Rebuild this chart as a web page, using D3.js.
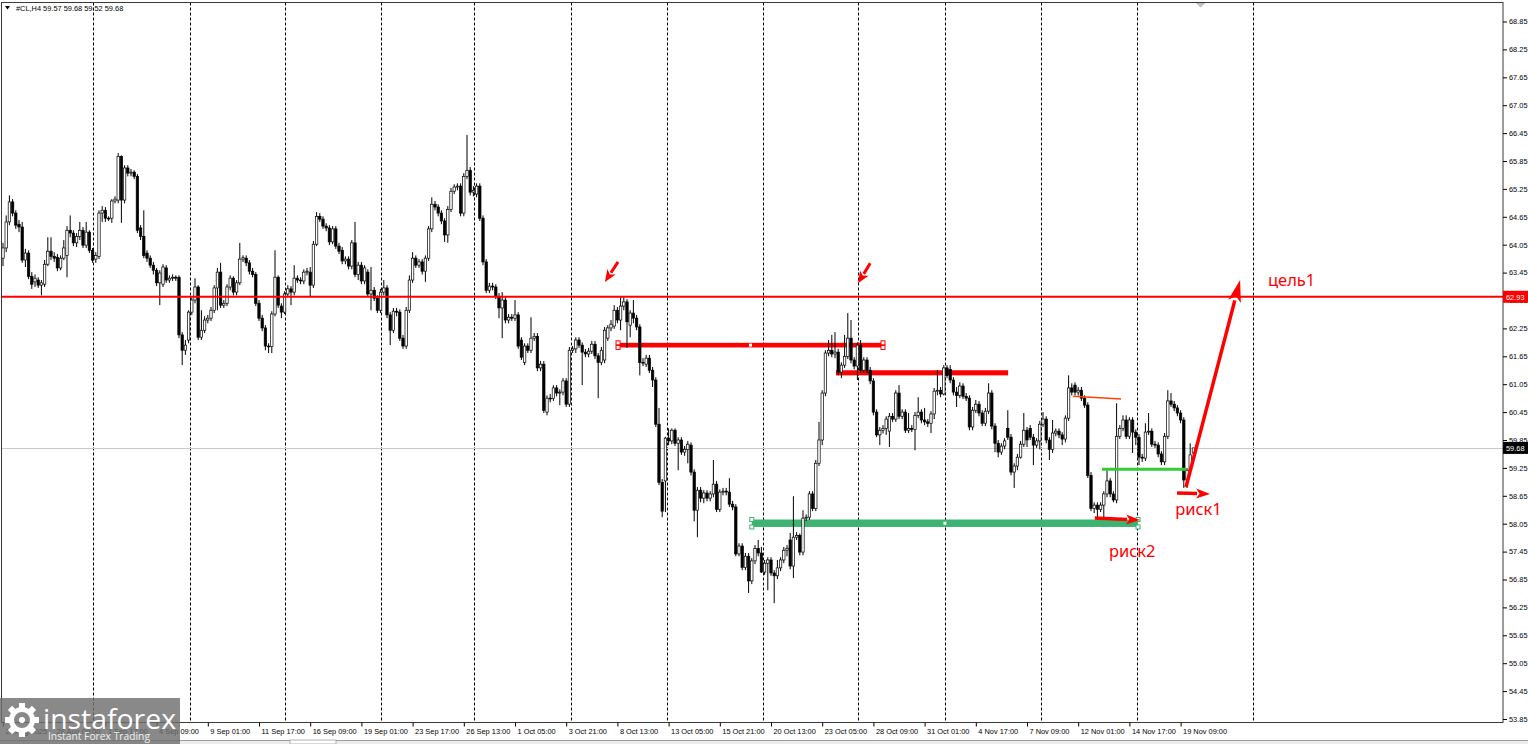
<!DOCTYPE html>
<html><head><meta charset="utf-8">
<script src="https://cdn.jsdelivr.net/npm/d3@7"></script>
<style>html,body{margin:0;padding:0;background:#fff;overflow:hidden}svg{display:block}</style>
</head><body>
<svg id="chart" width="1528" height="744"></svg>
<script>
// ---------------- DATA ----------------
const symbolName = "#CL,H4";
const lastQuote = [59.57, 59.68, 59.52, 59.68];

const opens = [
63.76,63.98,64.54,64.97,64.73,64.49,64.43,63.72,63.87,63.37,
63.25,63.29,63.18,63.20,63.63,63.91,63.80,63.78,63.55,63.76,
63.82,64.36,64.30,64.09,64.23,64.36,64.04,64.32,63.93,63.74,
63.80,64.73,64.79,64.62,64.62,64.99,65.01,65.95,65.01,65.70,
65.59,65.61,65.52,64.41,64.23,63.87,63.76,63.61,63.50,63.23,
63.20,63.55,63.29,63.33,63.35,63.35,62.11,61.78,62.00,62.60,
62.86,63.14,62.06,62.21,62.43,62.47,62.64,63.12,63.46,62.75,
62.79,63.14,63.33,63.03,63.23,63.74,63.76,63.66,63.48,63.41,
62.79,62.47,62.26,61.87,61.86,62.56,63.35,62.73,62.60,62.99,
63.10,63.03,63.33,63.29,63.27,63.46,63.46,63.18,64.06,64.66,
64.60,64.45,64.41,64.11,64.39,64.02,63.93,63.70,63.74,63.59,
64.09,63.41,63.61,63.27,63.46,62.99,63.07,62.90,62.64,63.03,
63.12,62.54,62.21,62.62,62.60,62.04,61.87,62.64,63.29,63.76,
63.61,63.68,63.48,63.76,64.39,64.92,64.86,64.73,64.56,64.26,
64.81,65.20,65.29,65.31,64.73,65.52,65.65,65.18,65.14,65.31,
64.62,63.68,63.07,63.16,63.14,62.94,62.69,62.86,62.43,62.49,
62.47,62.54,62.00,61.52,61.87,61.78,62.04,62.08,61.40,61.48,
60.45,60.75,60.74,60.97,60.86,60.88,61.12,60.62,61.78,61.81,
62.00,61.89,61.74,61.70,61.76,61.91,61.66,61.52,61.57,62.04,
62.26,62.30,62.64,62.43,62.73,62.82,62.32,62.58,62.47,62.28,
61.52,61.48,61.61,61.35,61.14,60.19,58.94,58.97,59.89,59.83,
60.06,59.78,59.85,59.59,59.65,59.74,59.16,58.34,58.77,58.60,
58.71,58.60,58.69,58.90,58.36,58.73,58.75,58.73,58.47,58.41,
57.40,57.57,57.11,57.35,56.82,57.25,57.52,57.42,57.01,57.20,
57.27,56.99,56.93,57.10,57.27,57.48,57.70,57.14,57.76,57.80,
57.44,58.17,58.19,58.69,58.38,59.35,59.85,60.86,61.72,61.78,
61.70,61.74,61.31,61.46,61.65,62.04,61.57,61.44,61.89,61.35,
61.57,61.35,61.12,60.45,59.96,60.06,60.10,60.04,60.36,60.30,
60.86,60.36,60.45,60.06,60.10,60.08,60.38,60.45,60.28,60.24,
60.21,60.41,60.90,60.92,60.84,61.40,61.37,61.14,60.88,60.81,
61.01,60.79,60.75,60.13,60.49,60.62,60.43,60.21,60.47,60.86,
60.15,59.78,59.59,59.72,60.10,59.91,59.16,59.29,59.48,59.76,
60.06,60.10,59.91,59.74,59.83,60.19,60.30,59.85,59.65,60.00,
60.04,59.96,59.87,60.32,60.97,61.03,60.88,60.92,60.75,60.60,
59.09,58.38,58.45,58.36,58.45,58.69,58.97,58.69,58.56,59.93,
60.10,60.28,59.93,60.28,60.02,59.91,59.48,59.46,60.02,60.04,
59.76,59.74,59.55,59.38,59.93,60.69,60.62,60.54,60.43,60.28,
58.99,59.20,59.57];

const highs = [
64.09,64.68,65.11,65.03,64.79,64.58,64.54,63.96,63.93,63.46,
63.41,63.35,63.29,63.72,64.21,64.21,63.89,63.85,63.82,64.15,
64.45,64.68,64.36,64.30,64.54,64.43,64.54,64.36,63.98,63.89,
64.79,64.88,64.86,64.66,65.03,65.09,66.02,65.97,65.76,65.76,
65.68,65.65,65.57,64.47,64.79,63.93,63.82,63.68,63.55,63.50,
63.63,63.61,63.39,63.41,63.39,63.39,62.17,62.00,62.64,62.92,
63.33,63.18,62.64,62.51,62.54,62.71,63.18,63.55,63.66,62.86,
63.20,63.39,63.37,63.29,64.09,63.82,63.82,63.72,63.55,63.46,
62.86,62.54,62.32,61.93,62.62,63.93,63.39,62.79,63.05,63.18,
63.16,63.61,63.39,63.35,63.52,63.55,63.57,64.13,64.75,64.73,
64.66,64.51,64.47,64.45,64.45,64.09,64.00,63.80,63.80,64.15,
64.54,63.68,63.68,63.61,63.52,63.57,63.14,62.96,63.10,63.29,
63.18,62.60,62.69,62.69,62.66,62.11,62.71,63.39,63.89,63.82,
63.74,63.74,63.82,64.45,65.07,64.99,64.92,64.79,64.62,64.88,
65.27,65.35,65.37,65.37,65.59,66.41,65.72,65.31,65.37,65.37,
64.68,63.74,63.23,63.23,63.20,63.01,63.03,62.92,62.56,62.56,
62.86,62.60,62.06,61.93,61.93,62.49,62.15,62.15,61.55,61.55,
60.81,60.84,61.03,61.03,60.94,61.18,61.18,61.85,61.87,62.06,
62.06,61.95,61.81,61.83,61.98,61.98,61.72,61.85,62.28,62.32,
62.43,62.75,62.71,62.92,62.92,62.88,62.64,62.86,62.54,62.34,
61.61,61.68,61.68,61.42,61.20,60.54,59.01,59.92,60.10,60.10,
60.10,59.91,59.91,59.72,59.83,59.80,59.22,58.84,58.84,58.77,
58.77,58.75,59.42,58.97,58.79,58.82,58.82,59.03,58.54,58.47,
57.63,57.63,57.42,57.42,57.31,57.59,57.70,57.55,57.27,57.33,
57.33,57.05,57.27,57.33,57.55,57.59,57.85,58.64,57.87,57.84,
58.34,58.25,58.75,58.75,59.42,60.24,60.92,61.78,62.00,62.11,
62.17,61.81,61.52,62.11,62.58,62.43,61.63,61.95,62.00,61.63,
61.63,61.42,61.18,60.51,60.13,60.17,60.36,60.43,60.43,60.92,
61.03,60.51,60.51,60.43,60.17,60.45,60.77,60.51,60.54,60.30,
60.47,60.97,61.35,60.99,61.46,61.46,61.46,61.20,60.99,61.09,
61.07,60.86,60.81,60.56,60.71,60.69,60.49,60.54,61.07,60.92,
60.21,59.85,59.78,59.89,60.49,59.98,59.35,59.55,59.83,60.43,
60.13,60.17,59.98,59.89,60.26,60.45,60.36,59.91,60.28,60.10,
60.10,60.02,60.38,61.24,61.07,61.09,60.99,60.99,60.81,60.66,
59.16,58.51,58.51,58.51,58.75,59.20,59.03,58.75,60.64,60.17,
60.38,60.38,60.34,60.34,60.08,59.98,59.55,60.21,60.43,60.10,
59.83,59.80,59.61,60.00,60.92,60.86,60.69,60.60,60.49,60.34,
59.25,59.78,59.68];

const lows = [
63.59,63.89,64.47,64.66,64.39,64.32,63.66,63.57,63.31,63.10,
63.14,63.12,62.96,63.14,63.59,63.72,63.68,63.48,63.50,63.72,
63.35,64.21,64.02,64.00,64.15,63.98,63.98,63.87,63.66,63.66,
63.74,64.54,64.54,64.56,64.52,64.94,64.94,64.52,64.94,65.52,
65.52,65.46,64.30,64.15,63.76,63.68,63.55,63.41,63.16,62.75,
63.14,63.23,63.23,63.27,63.27,62.04,61.46,61.68,61.93,62.54,
62.79,62.00,62.00,62.15,62.36,62.41,62.58,62.64,62.69,62.69,
62.73,63.07,62.96,62.96,63.18,63.68,63.59,63.41,63.35,62.73,
62.41,62.19,61.78,61.72,61.72,62.51,62.69,62.47,62.56,62.94,
62.75,62.96,63.23,63.20,63.20,63.39,62.92,63.12,64.02,64.54,
64.39,64.34,64.04,64.06,63.96,63.85,63.63,63.63,63.52,63.52,
63.35,63.29,63.20,63.20,62.92,62.64,62.84,62.58,62.58,62.96,
62.47,61.89,62.15,62.51,61.98,61.81,61.81,62.58,63.23,63.55,
63.55,63.41,63.25,63.70,64.32,64.79,64.66,64.49,64.11,64.09,
64.75,65.14,65.22,64.66,64.66,65.46,65.11,65.09,65.07,64.56,
63.61,63.01,63.01,63.07,62.88,62.47,62.04,62.36,62.36,62.41,
62.41,61.81,61.57,61.46,61.72,61.72,61.98,61.33,61.33,60.43,
60.38,60.66,60.69,60.79,60.60,60.81,60.56,60.56,61.72,61.72,
61.83,61.03,61.63,61.63,61.70,61.59,60.75,61.46,61.50,61.98,
62.19,62.24,62.36,62.21,62.64,61.83,62.06,62.36,62.21,61.24,
61.44,61.42,61.29,60.99,60.13,58.88,58.19,58.30,59.74,59.76,
59.72,59.20,59.53,59.51,59.35,59.09,58.10,57.76,58.51,58.49,
58.53,58.53,58.62,58.30,58.30,58.66,58.66,58.41,58.34,57.35,
57.35,57.05,57.05,56.56,56.75,57.18,57.35,56.99,56.95,56.62,
56.93,56.34,56.86,57.03,57.20,57.35,57.07,56.88,57.70,57.37,
57.37,58.11,58.13,58.32,58.32,59.29,59.74,60.79,61.65,61.63,
61.61,61.24,61.18,61.40,61.59,61.50,61.37,61.14,61.29,61.29,
61.29,61.05,60.38,59.91,59.74,59.99,59.96,59.70,60.24,60.24,
60.30,60.30,60.00,60.00,60.02,59.63,60.32,60.21,60.17,60.13,
60.00,60.30,60.81,60.77,60.81,61.18,61.07,60.81,60.56,60.75,
60.73,60.69,60.06,60.06,60.43,60.36,60.15,60.15,60.41,60.08,
59.59,59.48,59.53,59.65,59.85,59.09,58.82,59.20,59.45,59.70,
59.70,59.85,59.31,59.68,59.65,60.13,59.78,59.42,59.57,59.93,
59.89,59.74,59.80,60.26,60.81,60.81,60.81,60.69,60.54,59.03,
58.32,58.28,58.13,58.30,58.19,58.62,58.62,58.51,58.49,59.87,
60.04,59.87,59.87,59.57,59.74,59.31,59.38,59.40,59.96,59.70,
59.68,59.48,59.31,59.31,59.87,60.56,60.47,60.36,60.21,58.82,
58.82,59.14,59.52];

const closes = [
63.98,64.54,64.97,64.73,64.47,64.43,63.72,63.87,63.37,63.20,
63.33,63.18,63.23,63.63,63.91,63.80,63.76,63.55,63.76,63.98,
64.36,64.30,64.09,64.23,64.36,64.04,64.32,63.93,63.72,63.82,
64.73,64.79,64.62,64.61,64.99,65.03,65.95,65.01,65.70,65.59,
65.61,65.52,64.36,64.23,63.82,63.76,63.61,63.50,63.23,63.44,
63.57,63.29,63.33,63.35,63.33,62.11,61.78,61.89,62.60,62.86,
63.14,62.06,62.21,62.43,62.47,62.64,63.12,63.46,62.75,62.79,
63.14,63.33,63.03,63.23,63.74,63.77,63.66,63.48,63.41,62.79,
62.47,62.26,61.87,61.86,62.56,63.35,62.75,62.60,62.99,63.10,
63.03,63.33,63.29,63.27,63.46,63.48,63.18,64.06,64.66,64.60,
64.45,64.41,64.11,64.39,64.02,63.91,63.70,63.74,63.59,64.09,
63.41,63.61,63.27,63.55,62.99,63.07,62.90,62.64,63.03,63.12,
62.54,62.21,62.62,62.60,62.04,61.87,62.64,63.29,63.76,63.61,
63.68,63.48,63.76,64.39,64.92,64.86,64.73,64.56,64.26,64.81,
65.20,65.29,65.31,64.73,65.52,65.65,65.18,65.22,65.31,64.62,
63.68,63.07,63.16,63.14,62.94,62.69,62.86,62.43,62.49,62.47,
62.54,61.87,61.63,61.87,61.78,62.04,62.08,61.40,61.48,60.49,
60.75,60.74,60.97,60.86,60.88,61.12,60.62,61.78,61.81,62.00,
61.89,61.74,61.70,61.76,61.91,61.66,61.52,61.78,62.21,62.26,
62.34,62.64,62.43,62.73,62.82,62.39,62.58,62.47,62.28,61.52,
61.51,61.61,61.35,61.14,60.19,58.94,58.32,59.89,59.83,60.06,
59.78,59.85,59.59,59.65,59.76,59.16,58.34,58.77,58.60,58.71,
58.60,58.69,58.90,58.36,58.73,58.75,58.73,58.47,58.41,57.40,
57.57,57.11,57.35,56.82,57.25,57.52,57.42,57.01,57.20,57.27,
56.99,56.93,57.10,57.27,57.48,57.52,57.14,57.76,57.80,57.44,
58.17,58.19,58.69,58.38,59.35,59.85,60.86,61.72,61.78,61.70,
61.74,61.31,61.46,61.65,62.04,61.57,61.44,61.89,61.35,61.57,
61.35,61.12,60.45,59.96,60.06,60.10,60.30,60.36,60.30,60.86,
60.36,60.45,60.06,60.10,60.08,60.38,60.45,60.28,60.24,60.21,
60.41,60.90,60.92,60.84,61.40,61.24,61.14,60.88,60.81,61.01,
60.79,60.75,60.13,60.49,60.62,60.43,60.21,60.47,60.86,60.15,
59.78,59.59,59.72,59.83,59.91,59.16,59.29,59.48,59.76,60.06,
59.85,59.91,59.74,59.83,60.19,60.30,59.85,59.65,60.00,60.04,
59.96,59.87,60.32,60.97,60.88,60.88,60.92,60.75,60.60,59.09,
58.38,58.45,58.36,58.45,58.69,58.97,58.69,58.56,59.93,60.10,
60.28,59.93,60.28,60.02,59.91,59.48,59.46,60.02,60.04,59.76,
59.74,59.55,59.38,59.93,60.69,60.62,60.54,60.43,60.28,58.99,
59.20,59.53,59.68];

const timeLabels = ["25 Aug 2025","28 Aug 09:00","1 Sep 17:00","4 Sep 09:00","9 Sep 01:00","11 Sep 17:00",
  "16 Sep 09:00","19 Sep 01:00","23 Sep 17:00","26 Sep 13:00","1 Oct 05:00","3 Oct 21:00","8 Oct 13:00",
  "13 Oct 05:00","15 Oct 21:00","20 Oct 13:00","23 Oct 05:00","28 Oct 09:00","31 Oct 01:00","4 Nov 17:00",
  "7 Nov 09:00","12 Nov 01:00","14 Nov 17:00","19 Nov 09:00"];
const timeLabelBars = [0,16,32,48,64,80,96,112,128,144,160,176,192,208,224,240,256,272,288,304,320,336,352,368];
const priceTicks = [53.85,54.45,55.05,55.65,56.25,56.85,57.45,58.05,58.65,59.25,59.85,60.45,61.05,61.65,
  62.25,62.85,63.45,64.05,64.65,65.25,65.85,66.45,67.05,67.65,68.25,68.85];
const gridBars = [28.1,58.4,88.1,118.1,147.2,177.5,207.5,237.5,267.2,294.4,324.4,354.4,390.6];

const levelPrice = 62.93;
const bidPrice = 59.68;
// zones: [fromBar, toBar, topPrice, bottomPrice]
const redZones = [[192.2, 275.0, 61.94, 61.84], [260.3, 314.1, 61.35, 61.24]];
const greenZones = [[234.0, 354.7, 58.14, 57.98]];
// segments: [bar1, price1, bar2, price2]
const orangeSegments = [[334.4, 60.79, 349.4, 60.73]];
const limeSegments = [[343.4, 59.22, 369.7, 59.22]];
const smallArrows = [[192.2, 63.68, 188.1, 63.25], [271.0, 63.65, 267.2, 63.22]];
const bigArrows = [[369.7, 58.84, 386.6, 63.29]];
const flatArrows = [[366.9, 58.71, 377.2, 58.69], [341.2, 58.17, 355.3, 58.13]];
const noteTexts = ["цель1", "риск1", "риск2"];
const noteBars = [395.3, 366.3, 345.6];
const notePrices = [63.16, 58.24, 57.34];

// ---------------- DRAW ----------------
const svg = d3.select("#chart");
const W = 1528, H = 744;
const plotL = 1.5, plotR = 1503, plotT = 2.5, plotB = 722.5;
const FONT = "'Liberation Sans', Arial, sans-serif";

const n = closes.length;
const x = d3.scaleLinear().domain([0, n - 1]).range([3, 3 + 3.2 * (n - 1)]);
const y = d3.scaleLinear().domain([53.85, 68.85]).range([719, 21.5]);

svg.append("rect").attr("width", W).attr("height", H).attr("fill", "#fff");

svg.append("defs").append("clipPath").attr("id", "plotclip")
  .append("rect").attr("x", plotL).attr("y", plotT).attr("width", plotR - plotL).attr("height", plotB - plotT);

const plot = svg.append("g").attr("clip-path", "url(#plotclip)");

// grid
plot.append("g").selectAll("line").data(gridBars).join("line")
  .attr("x1", d => Math.round(x(d)) + 0.5).attr("x2", d => Math.round(x(d)) + 0.5)
  .attr("y1", plotT).attr("y2", plotB)
  .attr("stroke", "#000").attr("stroke-width", 1).attr("stroke-dasharray", "3,2");

// bid line
plot.append("line").attr("x1", plotL).attr("x2", plotR)
  .attr("y1", Math.round(y(bidPrice)) + 0.5).attr("y2", Math.round(y(bidPrice)) + 0.5)
  .attr("stroke", "#c8c8c8").attr("stroke-width", 1);

// zones (background objects)
function drawZones(data, color) {
  plot.append("g").selectAll("rect").data(data).join("rect")
    .attr("x", d => x(d[0])).attr("width", d => x(d[1]) - x(d[0]))
    .attr("y", d => y(d[2])).attr("height", d => y(d[3]) - y(d[2]))
    .attr("fill", color);
}
drawZones(redZones, "#ff0000");
drawZones(greenZones, "#3cb371");

// selection markers on first red zone and green zone
function markers(z, color) {
  const g = plot.append("g");
  const xs = [x(z[0]), x(z[1])];
  xs.forEach(px => {
    [y(z[2]), y(z[3])].forEach(py => {
      g.append("rect").attr("x", px - 2).attr("y", py - 2).attr("width", 4).attr("height", 4)
        .attr("fill", "#fff").attr("stroke", color).attr("stroke-width", 1);
    });
  });
  const mx = (xs[0] + xs[1]) / 2, my = (y(z[2]) + y(z[3])) / 2;
  g.append("rect").attr("x", mx - 1.5).attr("y", my - 1.5).attr("width", 3).attr("height", 3).attr("fill", "#fff");
}
markers(redZones[0], "#ff0000");
markers(greenZones[0], "#3cb371");

// candles
const candles = d3.range(n).map(i => ({i, o: opens[i], h: highs[i], l: lows[i], c: closes[i]}));
const cg = plot.append("g");
cg.selectAll("line").data(candles).join("line")
  .attr("x1", d => x(d.i)).attr("x2", d => x(d.i))
  .attr("y1", d => y(d.h)).attr("y2", d => y(d.l))
  .attr("stroke", "#000").attr("stroke-width", 1);
const bw = 2.4;
cg.selectAll("rect").data(candles).join("rect")
  .attr("x", d => x(d.i) - bw / 2).attr("width", bw)
  .attr("y", d => y(Math.max(d.o, d.c)))
  .attr("height", d => Math.max(0.8, Math.abs(y(d.o) - y(d.c))))
  .attr("fill", d => d.c >= d.o ? "#fff" : "#000")
  .attr("stroke", "#000").attr("stroke-width", 0.7);

// level line
plot.append("line").attr("x1", plotL).attr("x2", plotR)
  .attr("y1", y(levelPrice)).attr("y2", y(levelPrice))
  .attr("stroke", "#ff0000").attr("stroke-width", 2);

// thin segments
plot.append("g").selectAll("line").data(orangeSegments).join("line")
  .attr("x1", d => x(d[0])).attr("y1", d => y(d[1])).attr("x2", d => x(d[2])).attr("y2", d => y(d[3]))
  .attr("stroke", "#ff4500").attr("stroke-width", 1.5);
plot.append("g").selectAll("line").data(limeSegments).join("line")
  .attr("x1", d => x(d[0])).attr("y1", d => y(d[1])).attr("x2", d => x(d[2])).attr("y2", d => y(d[3]))
  .attr("stroke", "#32cd32").attr("stroke-width", 3);

// arrows
function arrow(d, lw, hl, hw) {
  const x1 = x(d[0]), y1 = y(d[1]), x2 = x(d[2]), y2 = y(d[3]);
  const dx = x2 - x1, dy = y2 - y1, L = Math.hypot(dx, dy), ux = dx / L, uy = dy / L;
  const bx = x2 - ux * hl, by = y2 - uy * hl;
  plot.append("line").attr("x1", x1).attr("y1", y1).attr("x2", bx + ux).attr("y2", by + uy)
    .attr("stroke", "#ff0000").attr("stroke-width", lw);
  plot.append("path")
    .attr("d", `M${x2},${y2}L${bx - uy * hw / 2},${by + ux * hw / 2}L${bx + ux * hl * 0.25},${by + uy * hl * 0.25}L${bx + uy * hw / 2},${by - ux * hw / 2}Z`)
    .attr("fill", "#ff0000");
}
smallArrows.forEach(d => arrow(d, 3, 12, 10));
bigArrows.forEach(d => arrow(d, 3.5, 22, 13));
flatArrows.forEach(d => arrow(d, 3.5, 14, 10));

// notes
plot.append("g").selectAll("text").data(noteTexts).join("text")
  .attr("x", (d, i) => x(noteBars[i])).attr("y", (d, i) => y(notePrices[i]))
  .attr("font-family", "'Noto Sans', 'Open Sans', sans-serif").attr("font-size", 16.5)
  .attr("fill", "#ff0000").text(d => d);

// frame
svg.append("rect").attr("x", plotL).attr("y", plotT).attr("width", plotR - plotL).attr("height", plotB - plotT)
  .attr("fill", "none").attr("stroke", "#3a3a3a").attr("stroke-width", 1);

// right axis
const ya = svg.append("g").attr("transform", `translate(${plotR},0)`)
  .call(d3.axisRight(y).tickValues(priceTicks).tickSize(4).tickPadding(2).tickFormat(d3.format(".2f")));
ya.select(".domain").remove();
ya.selectAll("line").attr("stroke", "#000");
ya.selectAll("text").attr("font-family", FONT).attr("font-size", 7.4).attr("fill", "#000");

// bottom axis
const xa = svg.append("g").attr("transform", `translate(0,${plotB})`)
  .call(d3.axisBottom(x).tickValues(timeLabelBars).tickSize(4).tickFormat((d, i) => timeLabels[i]));
xa.select(".domain").remove();
xa.selectAll("line").attr("stroke", "#000");
xa.selectAll("text").attr("font-family", FONT).attr("font-size", 7.4).attr("fill", "#000")
  .attr("text-anchor", "start").attr("dx", 2).attr("dy", "0.55em");

// price boxes
function priceBox(p, bg) {
  const cy = y(p);
  svg.append("rect").attr("x", plotR).attr("y", cy - 6).attr("width", 25).attr("height", 12).attr("fill", bg);
  svg.append("text").attr("x", plotR + 3).attr("y", cy + 2.8).attr("font-family", FONT).attr("font-size", 7.4)
    .attr("fill", "#fff").text(d3.format(".2f")(p));
}
priceBox(levelPrice, "#ff0000");
priceBox(bidPrice, "#000");

// header
svg.append("path").attr("d", "M5,6L10,6L7.5,9.5Z").attr("fill", "#000");
svg.append("text").attr("x", 16).attr("y", 11).attr("font-family", FONT).attr("font-size", 7.4).attr("fill", "#000")
  .text(symbolName + "  " + lastQuote.map(d3.format(".2f")).join(" "));

// chart shift marker
svg.append("path").attr("d", `M${x(n - 1) + 2.5},3L${x(n - 1) + 12},3L${x(n - 1) + 7.2},7.5Z`).attr("fill", "#c0c0c0");

// bottom strip
svg.append("rect").attr("x", 0).attr("y", 740).attr("width", W).attr("height", 4).attr("fill", "#ececec");
svg.append("line").attr("x1", 0).attr("x2", W).attr("y1", 740.5).attr("y2", 740.5).attr("stroke", "#a0a0a0");
svg.append("rect").attr("x", 290).attr("y", 740).attr("width", 46).attr("height", 4).attr("fill", "#fff")
  .attr("stroke", "#a0a0a0").attr("stroke-width", 0.8);

// logo
const logo = svg.append("g");
logo.append("rect").attr("x", 0).attr("y", 698).attr("width", 180).attr("height", 46)
  .attr("fill", "#6f6f6f").attr("opacity", 0.82);
const gx = 22, gy = 720;
for (let k = 0; k < 8; k++) {
  logo.append("rect").attr("x", gx - 3).attr("y", gy - 17).attr("width", 6).attr("height", 7)
    .attr("fill", "#fff").attr("transform", `rotate(${k * 45},${gx},${gy})`);
}
logo.append("circle").attr("cx", gx).attr("cy", gy).attr("r", 10.5).attr("fill", "none")
  .attr("stroke", "#fff").attr("stroke-width", 5);
logo.append("circle").attr("cx", gx).attr("cy", gy).attr("r", 3).attr("fill", "#fff");
logo.append("text").attr("x", 43).attr("y", 729).attr("font-family", "'Open Sans', 'Noto Sans', sans-serif")
  .attr("font-size", 28).attr("fill", "#fff").attr("textLength", 133).attr("lengthAdjust", "spacingAndGlyphs")
  .text("instaforex");
logo.append("text").attr("x", 48).attr("y", 740).attr("font-family", "'Open Sans', 'Noto Sans', sans-serif")
  .attr("font-size", 11.5).attr("fill", "#f0f0f0").attr("textLength", 102).attr("lengthAdjust", "spacingAndGlyphs")
  .text("Instant Forex Trading");
</script>
</body></html>
